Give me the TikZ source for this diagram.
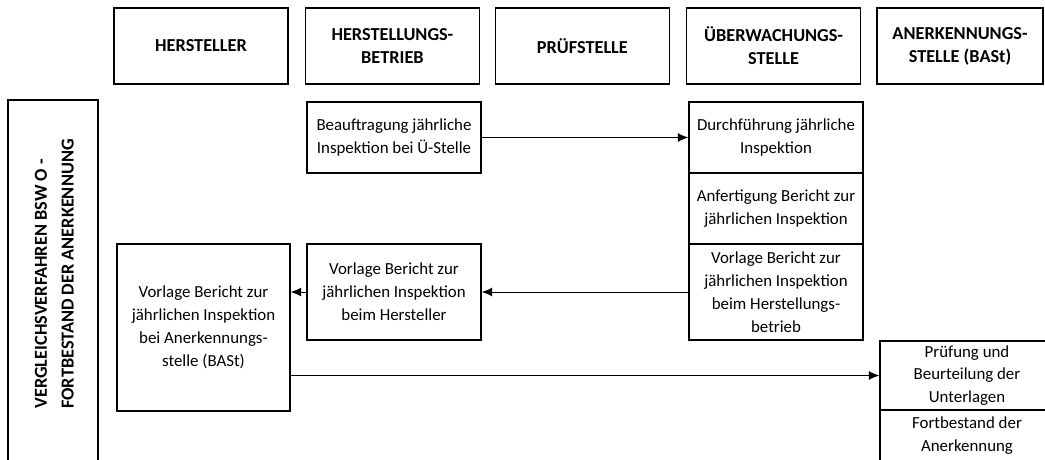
\documentclass[tikz,border=0pt]{standalone}
\usepackage{fontspec}
\setmainfont{Carlito}
\usetikzlibrary{arrows.meta}

\begin{document}
\begin{tikzpicture}[
    hdrbox/.style={draw, line width=1pt, minimum width=4.35cm, minimum height=1.9cm,
      align=center, font=\fontsize{13}{16.5}\selectfont\bfseries},
    procbox/.style={draw, line width=0.9pt, minimum width=4.35cm, align=center,
      inner sep=2pt, font=\fontsize{12}{16.3}\selectfont},
    arr/.style={-{Latex[length=2.6mm,width=2.2mm]}, line width=0.7pt}
  ]
  \path[use as bounding box, clip] (0,0) rectangle (26.125,-11.475);
  \fill[white] (0,0) rectangle (26.125,-11.475);

  % column headers
  \node[hdrbox] (hst) at (5.025,-1.15) {HERSTELLER};
  \node[hdrbox] (hb)  at (9.81,-1.15)  {HERSTELLUNGS-\\BETRIEB};
  \node[hdrbox] (pst) at (14.56,-1.15) {PRÜFSTELLE};
  \node[hdrbox] (ueb) at (19.34,-1.15) {ÜBERWACHUNGS-\\STELLE};
  \node[hdrbox, minimum width=4.15cm] (ane) at (24.0,-1.15) {ANERKENNUNGS-\\STELLE (BASt)};

  % lane on the left
  \node[draw, line width=1pt, minimum width=2.25cm, minimum height=9.25cm] (lane) at (1.325,-7.125) {};
  \node[rotate=90, align=left, font=\fontsize{13}{19}\selectfont\bfseries] (lanetitle) at (1.36,-6.85)
    {VERGLEICHSVERFAHREN BSW O -\\FORTBESTAND DER ANERKENNUNG};

  % steps
  \node[procbox, minimum height=1.775cm] (beauf) at (9.85,-3.4375)
    {Beauftragung jährliche\\Inspektion bei Ü-Stelle};
  \node[procbox, minimum height=1.775cm] (durch) at (19.4,-3.4375)
    {Durchführung jährliche\\Inspektion};
  \node[procbox, minimum height=1.775cm] (anfert) at (19.4,-5.2125)
    {Anfertigung Bericht zur\\jährlichen Inspektion};
  \node[procbox, minimum height=2.4cm] (vorlueb) at (19.4,-7.3)
    {Vorlage Bericht zur\\jährlichen Inspektion\\beim Herstellungs-\\betrieb};
  \node[procbox, minimum height=2.4cm] (vorlhb) at (9.85,-7.3)
    {Vorlage Bericht zur\\jährlichen Inspektion\\beim Hersteller};
  \node[procbox, minimum width=4.325cm, minimum height=4.175cm] (vorlh) at (5.0875,-8.1875)
    {Vorlage Bericht zur\\jährlichen Inspektion\\bei Anerkennungs-\\stelle (BASt)};
  \node[procbox, minimum height=1.725cm] (pruef) at (24.175,-9.3875)
    {Prüfung und\\Beurteilung der\\Unterlagen};
  \node[procbox, minimum height=1.3cm] (fortb) at (24.175,-10.9)
    {Fortbestand der\\Anerkennung};

  % connectors
  \draw[arr] (beauf) -- (durch);
  \draw[arr] (vorlueb) -- (vorlhb);
  \draw[arr] (vorlhb.west) -- (vorlhb.west -| vorlh.east);
  \draw[arr] (vorlh.east |- pruef.west) -- (pruef.west);
\end{tikzpicture}
\end{document}
